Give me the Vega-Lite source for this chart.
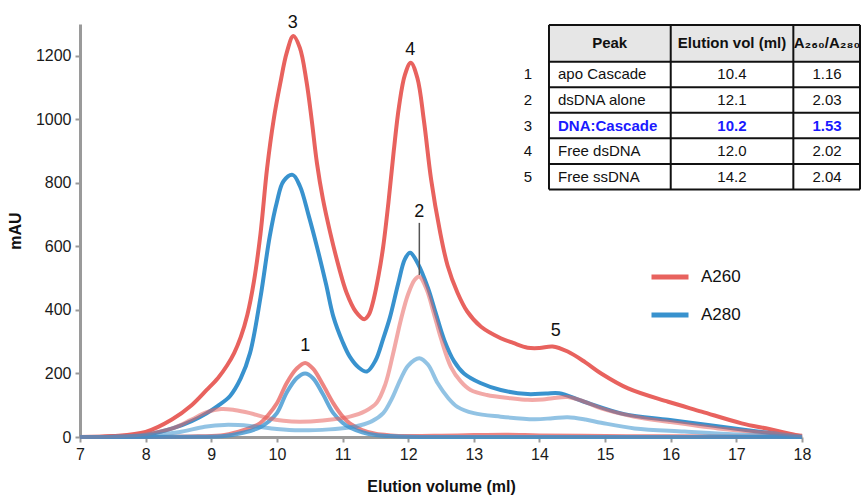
{
  "$schema": "https://vega.github.io/schema/vega-lite/v6.json",
  "width": 722,
  "height": 413,
  "autosize": "none",
  "padding": {"left": 80, "top": 24, "right": 62, "bottom": 63},
  "config": {
    "font": "Liberation Sans",
    "view": {"stroke": null},
    "axis": {"grid": false, "domainColor": "#9a9a9a", "domainWidth": 3, "tickColor": "#9a9a9a", "tickWidth": 2, "tickSize": 5, "labelFontSize": 16, "labelColor": "#1a1a1a", "titleFontSize": 16, "titleFontWeight": "bold", "titleColor": "#111111", "labelFlush": false}
  },
  "datasets": {
    "curves": [
      {"sample":"DNA:Cascade","signal":"A260","vol":7,"mau":0},{"sample":"DNA:Cascade","signal":"A260","vol":7.5,"mau":3},{"sample":"DNA:Cascade","signal":"A260","vol":8,"mau":16},{"sample":"DNA:Cascade","signal":"A260","vol":8.4,"mau":55},{"sample":"DNA:Cascade","signal":"A260","vol":8.7,"mau":100},{"sample":"DNA:Cascade","signal":"A260","vol":8.93,"mau":148},{"sample":"DNA:Cascade","signal":"A260","vol":9.1,"mau":185},{"sample":"DNA:Cascade","signal":"A260","vol":9.24,"mau":225},{"sample":"DNA:Cascade","signal":"A260","vol":9.35,"mau":265},{"sample":"DNA:Cascade","signal":"A260","vol":9.45,"mau":315},{"sample":"DNA:Cascade","signal":"A260","vol":9.55,"mau":385},{"sample":"DNA:Cascade","signal":"A260","vol":9.65,"mau":490},{"sample":"DNA:Cascade","signal":"A260","vol":9.75,"mau":640},{"sample":"DNA:Cascade","signal":"A260","vol":9.85,"mau":845},{"sample":"DNA:Cascade","signal":"A260","vol":9.95,"mau":998},{"sample":"DNA:Cascade","signal":"A260","vol":10.05,"mau":1112},{"sample":"DNA:Cascade","signal":"A260","vol":10.15,"mau":1210},{"sample":"DNA:Cascade","signal":"A260","vol":10.25,"mau":1262},{"sample":"DNA:Cascade","signal":"A260","vol":10.35,"mau":1225},{"sample":"DNA:Cascade","signal":"A260","vol":10.45,"mau":1120},{"sample":"DNA:Cascade","signal":"A260","vol":10.53,"mau":998},{"sample":"DNA:Cascade","signal":"A260","vol":10.61,"mau":862},{"sample":"DNA:Cascade","signal":"A260","vol":10.7,"mau":750},{"sample":"DNA:Cascade","signal":"A260","vol":10.81,"mau":645},{"sample":"DNA:Cascade","signal":"A260","vol":10.95,"mau":530},{"sample":"DNA:Cascade","signal":"A260","vol":11.06,"mau":455},{"sample":"DNA:Cascade","signal":"A260","vol":11.2,"mau":395},{"sample":"DNA:Cascade","signal":"A260","vol":11.33,"mau":371},{"sample":"DNA:Cascade","signal":"A260","vol":11.4,"mau":385},{"sample":"DNA:Cascade","signal":"A260","vol":11.47,"mau":430},{"sample":"DNA:Cascade","signal":"A260","vol":11.55,"mau":510},{"sample":"DNA:Cascade","signal":"A260","vol":11.62,"mau":600},{"sample":"DNA:Cascade","signal":"A260","vol":11.7,"mau":740},{"sample":"DNA:Cascade","signal":"A260","vol":11.78,"mau":900},{"sample":"DNA:Cascade","signal":"A260","vol":11.86,"mau":1040},{"sample":"DNA:Cascade","signal":"A260","vol":11.95,"mau":1140},{"sample":"DNA:Cascade","signal":"A260","vol":12.04,"mau":1178},{"sample":"DNA:Cascade","signal":"A260","vol":12.14,"mau":1130},{"sample":"DNA:Cascade","signal":"A260","vol":12.24,"mau":995},{"sample":"DNA:Cascade","signal":"A260","vol":12.35,"mau":810},{"sample":"DNA:Cascade","signal":"A260","vol":12.48,"mau":652},{"sample":"DNA:Cascade","signal":"A260","vol":12.6,"mau":540},{"sample":"DNA:Cascade","signal":"A260","vol":12.75,"mau":455},{"sample":"DNA:Cascade","signal":"A260","vol":12.9,"mau":395},{"sample":"DNA:Cascade","signal":"A260","vol":13.11,"mau":347},{"sample":"DNA:Cascade","signal":"A260","vol":13.41,"mau":311},{"sample":"DNA:Cascade","signal":"A260","vol":13.6,"mau":296},{"sample":"DNA:Cascade","signal":"A260","vol":13.82,"mau":281},{"sample":"DNA:Cascade","signal":"A260","vol":14.0,"mau":280},{"sample":"DNA:Cascade","signal":"A260","vol":14.2,"mau":285},{"sample":"DNA:Cascade","signal":"A260","vol":14.43,"mau":269},{"sample":"DNA:Cascade","signal":"A260","vol":14.7,"mau":235},{"sample":"DNA:Cascade","signal":"A260","vol":14.94,"mau":200},{"sample":"DNA:Cascade","signal":"A260","vol":15.35,"mau":153},{"sample":"DNA:Cascade","signal":"A260","vol":15.96,"mau":111},{"sample":"DNA:Cascade","signal":"A260","vol":16.47,"mau":80},{"sample":"DNA:Cascade","signal":"A260","vol":17.08,"mau":43},{"sample":"DNA:Cascade","signal":"A260","vol":17.5,"mau":25},{"sample":"DNA:Cascade","signal":"A260","vol":18,"mau":2},

      {"sample":"DNA:Cascade","signal":"A280","vol":7,"mau":0},{"sample":"DNA:Cascade","signal":"A280","vol":7.5,"mau":1},{"sample":"DNA:Cascade","signal":"A280","vol":8,"mau":7},{"sample":"DNA:Cascade","signal":"A280","vol":8.42,"mau":28},{"sample":"DNA:Cascade","signal":"A280","vol":8.7,"mau":50},{"sample":"DNA:Cascade","signal":"A280","vol":8.93,"mau":75},{"sample":"DNA:Cascade","signal":"A280","vol":9.1,"mau":98},{"sample":"DNA:Cascade","signal":"A280","vol":9.29,"mau":130},{"sample":"DNA:Cascade","signal":"A280","vol":9.45,"mau":185},{"sample":"DNA:Cascade","signal":"A280","vol":9.59,"mau":264},{"sample":"DNA:Cascade","signal":"A280","vol":9.75,"mau":440},{"sample":"DNA:Cascade","signal":"A280","vol":9.89,"mau":631},{"sample":"DNA:Cascade","signal":"A280","vol":10.0,"mau":740},{"sample":"DNA:Cascade","signal":"A280","vol":10.1,"mau":805},{"sample":"DNA:Cascade","signal":"A280","vol":10.24,"mau":825},{"sample":"DNA:Cascade","signal":"A280","vol":10.35,"mau":790},{"sample":"DNA:Cascade","signal":"A280","vol":10.48,"mau":700},{"sample":"DNA:Cascade","signal":"A280","vol":10.61,"mau":599},{"sample":"DNA:Cascade","signal":"A280","vol":10.75,"mau":480},{"sample":"DNA:Cascade","signal":"A280","vol":10.86,"mau":379},{"sample":"DNA:Cascade","signal":"A280","vol":11.0,"mau":300},{"sample":"DNA:Cascade","signal":"A280","vol":11.11,"mau":253},{"sample":"DNA:Cascade","signal":"A280","vol":11.25,"mau":218},{"sample":"DNA:Cascade","signal":"A280","vol":11.37,"mau":206},{"sample":"DNA:Cascade","signal":"A280","vol":11.5,"mau":240},{"sample":"DNA:Cascade","signal":"A280","vol":11.62,"mau":310},{"sample":"DNA:Cascade","signal":"A280","vol":11.72,"mau":375},{"sample":"DNA:Cascade","signal":"A280","vol":11.85,"mau":485},{"sample":"DNA:Cascade","signal":"A280","vol":11.95,"mau":560},{"sample":"DNA:Cascade","signal":"A280","vol":12.03,"mau":580},{"sample":"DNA:Cascade","signal":"A280","vol":12.15,"mau":545},{"sample":"DNA:Cascade","signal":"A280","vol":12.3,"mau":470},{"sample":"DNA:Cascade","signal":"A280","vol":12.42,"mau":390},{"sample":"DNA:Cascade","signal":"A280","vol":12.55,"mau":305},{"sample":"DNA:Cascade","signal":"A280","vol":12.7,"mau":238},{"sample":"DNA:Cascade","signal":"A280","vol":12.85,"mau":200},{"sample":"DNA:Cascade","signal":"A280","vol":13.1,"mau":170},{"sample":"DNA:Cascade","signal":"A280","vol":13.41,"mau":148},{"sample":"DNA:Cascade","signal":"A280","vol":13.82,"mau":135},{"sample":"DNA:Cascade","signal":"A280","vol":14.1,"mau":137},{"sample":"DNA:Cascade","signal":"A280","vol":14.3,"mau":138},{"sample":"DNA:Cascade","signal":"A280","vol":14.68,"mau":111},{"sample":"DNA:Cascade","signal":"A280","vol":15.29,"mau":72},{"sample":"DNA:Cascade","signal":"A280","vol":15.96,"mau":54},{"sample":"DNA:Cascade","signal":"A280","vol":16.57,"mau":38},{"sample":"DNA:Cascade","signal":"A280","vol":17.23,"mau":20},{"sample":"DNA:Cascade","signal":"A280","vol":18,"mau":1},

      {"sample":"apo Cascade","signal":"A260","vol":7,"mau":0},{"sample":"apo Cascade","signal":"A260","vol":8,"mau":0},{"sample":"apo Cascade","signal":"A260","vol":8.8,"mau":2},{"sample":"apo Cascade","signal":"A260","vol":9.2,"mau":6},{"sample":"apo Cascade","signal":"A260","vol":9.5,"mau":22},{"sample":"apo Cascade","signal":"A260","vol":9.74,"mau":43},{"sample":"apo Cascade","signal":"A260","vol":9.87,"mau":70},{"sample":"apo Cascade","signal":"A260","vol":10.0,"mau":106},{"sample":"apo Cascade","signal":"A260","vol":10.15,"mau":170},{"sample":"apo Cascade","signal":"A260","vol":10.3,"mau":215},{"sample":"apo Cascade","signal":"A260","vol":10.43,"mau":233},{"sample":"apo Cascade","signal":"A260","vol":10.55,"mau":215},{"sample":"apo Cascade","signal":"A260","vol":10.7,"mau":165},{"sample":"apo Cascade","signal":"A260","vol":10.86,"mau":106},{"sample":"apo Cascade","signal":"A260","vol":11.0,"mau":65},{"sample":"apo Cascade","signal":"A260","vol":11.11,"mau":43},{"sample":"apo Cascade","signal":"A260","vol":11.3,"mau":22},{"sample":"apo Cascade","signal":"A260","vol":11.5,"mau":10},{"sample":"apo Cascade","signal":"A260","vol":11.73,"mau":5},{"sample":"apo Cascade","signal":"A260","vol":12,"mau":3},{"sample":"apo Cascade","signal":"A260","vol":12.5,"mau":4},{"sample":"apo Cascade","signal":"A260","vol":13,"mau":6},{"sample":"apo Cascade","signal":"A260","vol":13.5,"mau":7},{"sample":"apo Cascade","signal":"A260","vol":14,"mau":5},{"sample":"apo Cascade","signal":"A260","vol":15,"mau":3},{"sample":"apo Cascade","signal":"A260","vol":16,"mau":2},{"sample":"apo Cascade","signal":"A260","vol":18,"mau":1},

      {"sample":"apo Cascade","signal":"A280","vol":7,"mau":0},{"sample":"apo Cascade","signal":"A280","vol":8.8,"mau":1},{"sample":"apo Cascade","signal":"A280","vol":9.2,"mau":3},{"sample":"apo Cascade","signal":"A280","vol":9.5,"mau":14},{"sample":"apo Cascade","signal":"A280","vol":9.74,"mau":30},{"sample":"apo Cascade","signal":"A280","vol":9.87,"mau":48},{"sample":"apo Cascade","signal":"A280","vol":10.0,"mau":75},{"sample":"apo Cascade","signal":"A280","vol":10.15,"mau":140},{"sample":"apo Cascade","signal":"A280","vol":10.3,"mau":185},{"sample":"apo Cascade","signal":"A280","vol":10.43,"mau":200},{"sample":"apo Cascade","signal":"A280","vol":10.55,"mau":185},{"sample":"apo Cascade","signal":"A280","vol":10.7,"mau":135},{"sample":"apo Cascade","signal":"A280","vol":10.86,"mau":75},{"sample":"apo Cascade","signal":"A280","vol":11.0,"mau":45},{"sample":"apo Cascade","signal":"A280","vol":11.11,"mau":30},{"sample":"apo Cascade","signal":"A280","vol":11.3,"mau":15},{"sample":"apo Cascade","signal":"A280","vol":11.5,"mau":6},{"sample":"apo Cascade","signal":"A280","vol":11.73,"mau":3},{"sample":"apo Cascade","signal":"A280","vol":12,"mau":1},{"sample":"apo Cascade","signal":"A280","vol":13,"mau":0},{"sample":"apo Cascade","signal":"A280","vol":18,"mau":0},

      {"sample":"dsDNA alone","signal":"A260","vol":7,"mau":0},{"sample":"dsDNA alone","signal":"A260","vol":7.5,"mau":2},{"sample":"dsDNA alone","signal":"A260","vol":8,"mau":9},{"sample":"dsDNA alone","signal":"A260","vol":8.42,"mau":28},{"sample":"dsDNA alone","signal":"A260","vol":8.7,"mau":55},{"sample":"dsDNA alone","signal":"A260","vol":8.93,"mau":78},{"sample":"dsDNA alone","signal":"A260","vol":9.15,"mau":88},{"sample":"dsDNA alone","signal":"A260","vol":9.35,"mau":85},{"sample":"dsDNA alone","signal":"A260","vol":9.59,"mau":75},{"sample":"dsDNA alone","signal":"A260","vol":9.85,"mau":60},{"sample":"dsDNA alone","signal":"A260","vol":10.1,"mau":51},{"sample":"dsDNA alone","signal":"A260","vol":10.35,"mau":48},{"sample":"dsDNA alone","signal":"A260","vol":10.7,"mau":52},{"sample":"dsDNA alone","signal":"A260","vol":11.11,"mau":64},{"sample":"dsDNA alone","signal":"A260","vol":11.35,"mau":82},{"sample":"dsDNA alone","signal":"A260","vol":11.52,"mau":108},{"sample":"dsDNA alone","signal":"A260","vol":11.65,"mau":165},{"sample":"dsDNA alone","signal":"A260","vol":11.77,"mau":262},{"sample":"dsDNA alone","signal":"A260","vol":11.89,"mau":370},{"sample":"dsDNA alone","signal":"A260","vol":12.0,"mau":450},{"sample":"dsDNA alone","signal":"A260","vol":12.1,"mau":495},{"sample":"dsDNA alone","signal":"A260","vol":12.17,"mau":505},{"sample":"dsDNA alone","signal":"A260","vol":12.28,"mau":465},{"sample":"dsDNA alone","signal":"A260","vol":12.39,"mau":390},{"sample":"dsDNA alone","signal":"A260","vol":12.5,"mau":310},{"sample":"dsDNA alone","signal":"A260","vol":12.65,"mau":221},{"sample":"dsDNA alone","signal":"A260","vol":12.8,"mau":175},{"sample":"dsDNA alone","signal":"A260","vol":12.95,"mau":148},{"sample":"dsDNA alone","signal":"A260","vol":13.2,"mau":132},{"sample":"dsDNA alone","signal":"A260","vol":13.56,"mau":122},{"sample":"dsDNA alone","signal":"A260","vol":13.82,"mau":117},{"sample":"dsDNA alone","signal":"A260","vol":14.05,"mau":118},{"sample":"dsDNA alone","signal":"A260","vol":14.2,"mau":122},{"sample":"dsDNA alone","signal":"A260","vol":14.43,"mau":126},{"sample":"dsDNA alone","signal":"A260","vol":14.7,"mau":110},{"sample":"dsDNA alone","signal":"A260","vol":14.94,"mau":90},{"sample":"dsDNA alone","signal":"A260","vol":15.45,"mau":64},{"sample":"dsDNA alone","signal":"A260","vol":15.96,"mau":48},{"sample":"dsDNA alone","signal":"A260","vol":16.72,"mau":27},{"sample":"dsDNA alone","signal":"A260","vol":17.4,"mau":14},{"sample":"dsDNA alone","signal":"A260","vol":18,"mau":5},

      {"sample":"dsDNA alone","signal":"A280","vol":7,"mau":0},{"sample":"dsDNA alone","signal":"A280","vol":8,"mau":4},{"sample":"dsDNA alone","signal":"A280","vol":8.5,"mau":15},{"sample":"dsDNA alone","signal":"A280","vol":8.9,"mau":32},{"sample":"dsDNA alone","signal":"A280","vol":9.2,"mau":38},{"sample":"dsDNA alone","signal":"A280","vol":9.59,"mau":35},{"sample":"dsDNA alone","signal":"A280","vol":10.0,"mau":25},{"sample":"dsDNA alone","signal":"A280","vol":10.35,"mau":21},{"sample":"dsDNA alone","signal":"A280","vol":10.8,"mau":24},{"sample":"dsDNA alone","signal":"A280","vol":11.1,"mau":30},{"sample":"dsDNA alone","signal":"A280","vol":11.27,"mau":37},{"sample":"dsDNA alone","signal":"A280","vol":11.45,"mau":50},{"sample":"dsDNA alone","signal":"A280","vol":11.62,"mau":75},{"sample":"dsDNA alone","signal":"A280","vol":11.75,"mau":120},{"sample":"dsDNA alone","signal":"A280","vol":11.88,"mau":180},{"sample":"dsDNA alone","signal":"A280","vol":12.0,"mau":225},{"sample":"dsDNA alone","signal":"A280","vol":12.17,"mau":248},{"sample":"dsDNA alone","signal":"A280","vol":12.3,"mau":228},{"sample":"dsDNA alone","signal":"A280","vol":12.45,"mau":169},{"sample":"dsDNA alone","signal":"A280","vol":12.6,"mau":125},{"sample":"dsDNA alone","signal":"A280","vol":12.75,"mau":95},{"sample":"dsDNA alone","signal":"A280","vol":13.0,"mau":75},{"sample":"dsDNA alone","signal":"A280","vol":13.41,"mau":64},{"sample":"dsDNA alone","signal":"A280","vol":13.92,"mau":56},{"sample":"dsDNA alone","signal":"A280","vol":14.2,"mau":59},{"sample":"dsDNA alone","signal":"A280","vol":14.43,"mau":62},{"sample":"dsDNA alone","signal":"A280","vol":14.7,"mau":55},{"sample":"dsDNA alone","signal":"A280","vol":14.94,"mau":45},{"sample":"dsDNA alone","signal":"A280","vol":15.45,"mau":27},{"sample":"dsDNA alone","signal":"A280","vol":16.21,"mau":17},{"sample":"dsDNA alone","signal":"A280","vol":17,"mau":8},{"sample":"dsDNA alone","signal":"A280","vol":18,"mau":1}
    ],
    "labels": [
      {"label":"3","vol":10.24,"mau":1287},
      {"label":"4","vol":12.03,"mau":1202},
      {"label":"2","vol":12.17,"mau":694},
      {"label":"1","vol":10.43,"mau":270},
      {"label":"5","vol":14.25,"mau":317}
    ],
    "leader": [{"vol":12.17,"mau":510,"mau2":674}],
    "table": [
      {"row":0,"peak":"","name":"Peak","vol":"Elution vol (ml)","ratio":"A₂₆₀/A₂₈₀","kind":"head"},
      {"row":1,"peak":"1","name":"apo Cascade","vol":"10.4","ratio":"1.16","kind":"body"},
      {"row":2,"peak":"2","name":"dsDNA alone","vol":"12.1","ratio":"2.03","kind":"body"},
      {"row":3,"peak":"3","name":"DNA:Cascade","vol":"10.2","ratio":"1.53","kind":"highlight"},
      {"row":4,"peak":"4","name":"Free dsDNA","vol":"12.0","ratio":"2.02","kind":"body"},
      {"row":5,"peak":"5","name":"Free ssDNA","vol":"14.2","ratio":"2.04","kind":"body"}
    ]
  },
  "layer": [
    {
      "layer": [
        {
          "data": {"name": "curves"},
          "mark": {"type": "line", "strokeWidth": 4, "interpolate": "catmull-rom"},
          "encoding": {
            "x": {"field": "vol", "type": "quantitative", "scale": {"domain": [7, 18], "nice": false, "zero": false},
                  "axis": {"values": [7,8,9,10,11,12,13,14,15,16,17,18], "format": "d", "title": "Elution volume (ml)", "labelPadding": 4, "titlePadding": 16}},
            "y": {"field": "mau", "type": "quantitative", "scale": {"domain": [0, 1300], "nice": false},
                  "axis": {"values": [0,200,400,600,800,1000,1200], "format": "d", "title": "mAU", "labelPadding": 4, "titlePadding": 12}},
            "color": {"field": "signal", "type": "nominal", "scale": {"domain": ["A260", "A280"], "range": ["#E8625E", "#3892CE"]},
                      "legend": {"title": null, "orient": "none", "legendX": 569, "legendY": 232, "symbolType": "stroke", "symbolSize": 1369, "symbolStrokeWidth": 5, "symbolOpacity": 1, "labelFontSize": 17, "labelColor": "#111111", "labelOffset": 10, "rowPadding": 7, "padding": 0}},
            "opacity": {"field": "sample", "type": "nominal", "scale": {"domain": ["DNA:Cascade", "apo Cascade", "dsDNA alone"], "range": [1, 0.55, 0.55]}, "legend": null}
          }
        },
        {
          "data": {"name": "leader"},
          "mark": {"type": "rule", "color": "#555555", "strokeWidth": 1.5},
          "encoding": {
            "x": {"field": "vol", "type": "quantitative"},
            "y": {"field": "mau", "type": "quantitative"},
            "y2": {"field": "mau2"}
          }
        },
        {
          "data": {"name": "labels"},
          "mark": {"type": "text", "fontSize": 18, "color": "#111111", "baseline": "alphabetic", "align": "center"},
          "encoding": {
            "x": {"field": "vol", "type": "quantitative"},
            "y": {"field": "mau", "type": "quantitative"},
            "text": {"field": "label"}
          }
        }
      ]
    },
    {
      "data": {"name": "table"},
      "layer": [
        {
          "data": {"values": [{}]},
          "mark": {"type": "rect", "color": "#e6e6e6"},
          "encoding": {
            "x": {"datum": 14.145, "type": "quantitative", "scale": {"domain": [7, 18], "nice": false, "zero": false}, "axis": null},
            "x2": {"datum": 18.884},
            "y": {"datum": -0.94, "type": "quantitative", "scale": {"domain": [-0.976, 15.19], "reverse": true, "nice": false, "zero": false}, "axis": null},
            "y2": {"datum": 0.5}
          }
        },
        {
          "mark": {"type": "rule", "color": "#111111", "strokeWidth": 2, "yOffset": 12.77},
          "encoding": {
            "x": {"datum": 14.145, "type": "quantitative", "scale": {"domain": [7, 18], "nice": false, "zero": false}, "axis": null},
            "x2": {"datum": 18.884},
            "y": {"field": "row", "type": "quantitative", "scale": {"domain": [-0.976, 15.19], "reverse": true, "nice": false, "zero": false}, "axis": null}
          }
        },
        {
          "data": {"values": [{}]},
          "mark": {"type": "rule", "color": "#111111", "strokeWidth": 2},
          "encoding": {
            "x": {"datum": 14.145, "type": "quantitative", "scale": {"domain": [7, 18], "nice": false, "zero": false}, "axis": null},
            "x2": {"datum": 18.884},
            "y": {"datum": -0.94, "type": "quantitative", "scale": {"domain": [-0.976, 15.19], "reverse": true, "nice": false, "zero": false}, "axis": null}
          }
        },
        {
          "data": {"values": [{}]},
          "mark": {"type": "rule", "color": "#111111", "strokeWidth": 2},
          "encoding": {
            "x": {"datum": 14.145, "type": "quantitative", "scale": {"domain": [7, 18], "nice": false, "zero": false}, "axis": null},
            "y": {"datum": -0.94, "type": "quantitative", "scale": {"domain": [-0.976, 15.19], "reverse": true, "nice": false, "zero": false}, "axis": null},
            "y2": {"datum": 5.5}
          }
        },
        {
          "data": {"values": [{}]},
          "mark": {"type": "rule", "color": "#111111", "strokeWidth": 2},
          "encoding": {
            "x": {"datum": 16.0, "type": "quantitative", "scale": {"domain": [7, 18], "nice": false, "zero": false}, "axis": null},
            "y": {"datum": -0.94, "type": "quantitative", "scale": {"domain": [-0.976, 15.19], "reverse": true, "nice": false, "zero": false}, "axis": null},
            "y2": {"datum": 5.5}
          }
        },
        {
          "data": {"values": [{}]},
          "mark": {"type": "rule", "color": "#111111", "strokeWidth": 2},
          "encoding": {
            "x": {"datum": 17.868, "type": "quantitative", "scale": {"domain": [7, 18], "nice": false, "zero": false}, "axis": null},
            "y": {"datum": -0.94, "type": "quantitative", "scale": {"domain": [-0.976, 15.19], "reverse": true, "nice": false, "zero": false}, "axis": null},
            "y2": {"datum": 5.5}
          }
        },
        {
          "data": {"values": [{}]},
          "mark": {"type": "rule", "color": "#111111", "strokeWidth": 2},
          "encoding": {
            "x": {"datum": 18.884, "type": "quantitative", "scale": {"domain": [7, 18], "nice": false, "zero": false}, "axis": null},
            "y": {"datum": -0.94, "type": "quantitative", "scale": {"domain": [-0.976, 15.19], "reverse": true, "nice": false, "zero": false}, "axis": null},
            "y2": {"datum": 5.5}
          }
        },
        {
          "transform": [{"filter": "datum.kind != 'head'"}],
          "mark": {"type": "text", "fontSize": 15, "color": "#111111", "align": "center", "baseline": "middle"},
          "encoding": {
            "x": {"datum": 13.826, "type": "quantitative", "scale": {"domain": [7, 18], "nice": false, "zero": false}, "axis": null},
            "y": {"field": "row", "type": "quantitative", "scale": {"domain": [-0.976, 15.19], "reverse": true, "nice": false, "zero": false}, "axis": null},
            "text": {"field": "peak"}
          }
        },
        {
          "transform": [{"filter": "datum.kind == 'head'"}],
          "mark": {"type": "text", "fontSize": 15, "fontWeight": "bold", "color": "#111111", "align": "center", "baseline": "middle", "dy": -6},
          "encoding": {
            "x": {"datum": 15.07, "type": "quantitative", "scale": {"domain": [7, 18], "nice": false, "zero": false}, "axis": null},
            "y": {"field": "row", "type": "quantitative", "scale": {"domain": [-0.976, 15.19], "reverse": true, "nice": false, "zero": false}, "axis": null},
            "text": {"field": "name"}
          }
        },
        {
          "transform": [{"filter": "datum.kind == 'head'"}],
          "mark": {"type": "text", "fontSize": 15, "fontWeight": "bold", "color": "#111111", "align": "center", "baseline": "middle", "dy": -6},
          "encoding": {
            "x": {"datum": 16.933, "type": "quantitative", "scale": {"domain": [7, 18], "nice": false, "zero": false}, "axis": null},
            "y": {"field": "row", "type": "quantitative", "scale": {"domain": [-0.976, 15.19], "reverse": true, "nice": false, "zero": false}, "axis": null},
            "text": {"field": "vol"}
          }
        },
        {
          "transform": [{"filter": "datum.kind == 'head'"}],
          "mark": {"type": "text", "fontSize": 15, "fontWeight": "bold", "color": "#111111", "align": "center", "baseline": "middle", "dy": -6},
          "encoding": {
            "x": {"datum": 18.381, "type": "quantitative", "scale": {"domain": [7, 18], "nice": false, "zero": false}, "axis": null},
            "y": {"field": "row", "type": "quantitative", "scale": {"domain": [-0.976, 15.19], "reverse": true, "nice": false, "zero": false}, "axis": null},
            "text": {"field": "ratio"}
          }
        },
        {
          "transform": [{"filter": "datum.kind == 'body'"}],
          "mark": {"type": "text", "fontSize": 15, "color": "#111111", "align": "left", "baseline": "middle"},
          "encoding": {
            "x": {"datum": 14.283, "type": "quantitative", "scale": {"domain": [7, 18], "nice": false, "zero": false}, "axis": null},
            "y": {"field": "row", "type": "quantitative", "scale": {"domain": [-0.976, 15.19], "reverse": true, "nice": false, "zero": false}, "axis": null},
            "text": {"field": "name"}
          }
        },
        {
          "transform": [{"filter": "datum.kind == 'body'"}],
          "mark": {"type": "text", "fontSize": 15, "color": "#111111", "align": "center", "baseline": "middle"},
          "encoding": {
            "x": {"datum": 16.933, "type": "quantitative", "scale": {"domain": [7, 18], "nice": false, "zero": false}, "axis": null},
            "y": {"field": "row", "type": "quantitative", "scale": {"domain": [-0.976, 15.19], "reverse": true, "nice": false, "zero": false}, "axis": null},
            "text": {"field": "vol"}
          }
        },
        {
          "transform": [{"filter": "datum.kind == 'body'"}],
          "mark": {"type": "text", "fontSize": 15, "color": "#111111", "align": "center", "baseline": "middle"},
          "encoding": {
            "x": {"datum": 18.381, "type": "quantitative", "scale": {"domain": [7, 18], "nice": false, "zero": false}, "axis": null},
            "y": {"field": "row", "type": "quantitative", "scale": {"domain": [-0.976, 15.19], "reverse": true, "nice": false, "zero": false}, "axis": null},
            "text": {"field": "ratio"}
          }
        },
        {
          "transform": [{"filter": "datum.kind == 'highlight'"}],
          "mark": {"type": "text", "fontSize": 15, "fontWeight": "bold", "color": "#1a1aff", "align": "left", "baseline": "middle"},
          "encoding": {
            "x": {"datum": 14.283, "type": "quantitative", "scale": {"domain": [7, 18], "nice": false, "zero": false}, "axis": null},
            "y": {"field": "row", "type": "quantitative", "scale": {"domain": [-0.976, 15.19], "reverse": true, "nice": false, "zero": false}, "axis": null},
            "text": {"field": "name"}
          }
        },
        {
          "transform": [{"filter": "datum.kind == 'highlight'"}],
          "mark": {"type": "text", "fontSize": 15, "fontWeight": "bold", "color": "#1a1aff", "align": "center", "baseline": "middle"},
          "encoding": {
            "x": {"datum": 16.933, "type": "quantitative", "scale": {"domain": [7, 18], "nice": false, "zero": false}, "axis": null},
            "y": {"field": "row", "type": "quantitative", "scale": {"domain": [-0.976, 15.19], "reverse": true, "nice": false, "zero": false}, "axis": null},
            "text": {"field": "vol"}
          }
        },
        {
          "transform": [{"filter": "datum.kind == 'highlight'"}],
          "mark": {"type": "text", "fontSize": 15, "fontWeight": "bold", "color": "#1a1aff", "align": "center", "baseline": "middle"},
          "encoding": {
            "x": {"datum": 18.381, "type": "quantitative", "scale": {"domain": [7, 18], "nice": false, "zero": false}, "axis": null},
            "y": {"field": "row", "type": "quantitative", "scale": {"domain": [-0.976, 15.19], "reverse": true, "nice": false, "zero": false}, "axis": null},
            "text": {"field": "ratio"}
          }
        }
      ]
    }
  ],
  "resolve": {"scale": {"x": "independent", "y": "independent"}}
}
